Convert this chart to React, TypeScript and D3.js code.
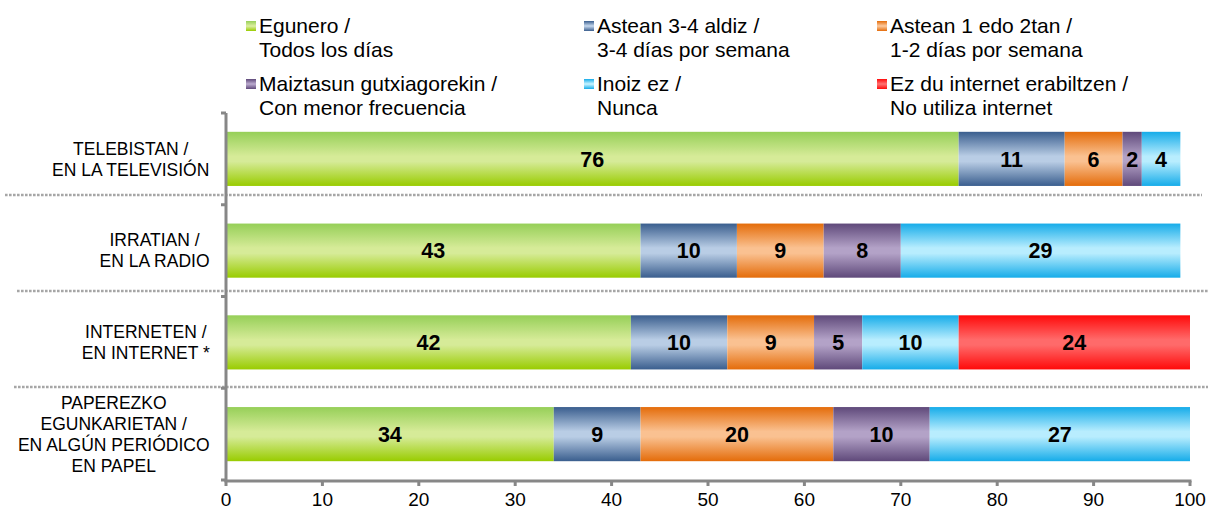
import React, { useMemo } from "react";
import * as d3 from "d3";

const categories = ["tv", "radio", "internet", "paper"];
const categoryLabels: string[][] = [
  ["TELEBISTAN /", "EN LA TELEVISIÓN"],
  ["IRRATIAN /", "EN LA RADIO"],
  ["INTERNETEN /", "EN INTERNET *"],
  ["PAPEREZKO", "EGUNKARIETAN /", "EN ALGÚN PERIÓDICO", "EN PAPEL"],
];

const seriesNames: string[][] = [
  ["Egunero /", "Todos los días"],
  ["Astean 3-4 aldiz /", "3-4 días por semana"],
  ["Astean 1 edo 2tan /", "1-2 días por semana"],
  ["Maiztasun gutxiagorekin /", "Con menor frecuencia"],
  ["Inoiz ez /", "Nunca"],
  ["Ez du internet erabiltzen /", "No utiliza internet"],
];

const egunero = [76, 43, 42, 34];
const astean34 = [11, 10, 10, 9];
const astean12 = [6, 9, 9, 20];
const maiztasun = [2, 8, 5, 10];
const inoizEz = [4, 29, 10, 27];
const ezDu = [0, 0, 24, 0];
const seriesValues = [egunero, astean34, astean12, maiztasun, inoizEz, ezDu];

const xTicks = [0, 10, 20, 30, 40, 50, 60, 70, 80, 90, 100];

// gradient colours: [edge top, middle, edge bottom]
const seriesColors: string[][] = [
  ["#96cf58", "#d6eb98", "#99cc00"],
  ["#3a5e8e", "#b9cde5", "#3a5e8e"],
  ["#e46c0a", "#fac191", "#e46c0a"],
  ["#5f497a", "#b3a2c7", "#5f497a"],
  ["#16ace9", "#b8edfe", "#16ace9"],
  ["#ff0a0a", "#ff6a6a", "#ff0a0a"],
];

const W = 1209;
const H = 511;
const FONT = "'Liberation Sans', Arial, sans-serif";

function measure(text: string, font: string): number {
  if (typeof document === "undefined") return text.length * 9;
  const c = document.createElement("canvas");
  const ctx = c.getContext("2d");
  if (!ctx) return text.length * 9;
  ctx.font = font;
  return ctx.measureText(text).width;
}

export default function App() {
  const x = d3.scaleLinear().domain([0, 100]).range([226, 1190]);
  const y = d3
    .scaleBand<string>()
    .domain(categories)
    .range([113, 480])
    .paddingInner(0.41)
    .paddingOuter(0.205);
  const bw = y.bandwidth();
  const step = y.step();

  const stackData = categories.map((c, i) => {
    const row: any = { cat: c };
    seriesValues.forEach((s, k) => (row["s" + k] = s[i]));
    return row;
  });
  const keys = seriesValues.map((_, k) => "s" + k);
  const stacked = d3.stack<any>().keys(keys)(stackData);

  const catFont = `17.5px ${FONT}`;
  const labelBlocks = useMemo(
    () =>
      categoryLabels.map((lines) =>
        Math.max(...lines.map((l) => measure(l, catFont)))
      ),
    []
  );

  const sepY = [195, 291, 387];
  const sepX = [[5, 1202], [17, 1208], [14, 1208]];

  const legendCols = [246, 584, 877];
  const legendRows = [33, 91];

  const axisColor = "#878787";
  const boundaries = d3.range(categories.length + 1).map((i) => 113 + i * step);

  return (
    <svg
      width={W}
      height={H}
      style={{ position: "absolute", left: 0, top: 0, background: "#fff" }}
      fontFamily={FONT}
    >
      <defs>
        {seriesColors.map((c, k) => (
          <linearGradient key={k} id={"g" + k} x1="0" y1="0" x2="0" y2="1">
            <stop offset="0" stopColor={c[0]} />
            <stop offset="0.45" stopColor={c[1]} />
            <stop offset="0.55" stopColor={c[1]} />
            <stop offset="1" stopColor={c[2]} />
          </linearGradient>
        ))}
      </defs>

      {/* legend */}
      {seriesNames.map((lines, k) => {
        const cx = legendCols[k % 3];
        const by = legendRows[Math.floor(k / 3)];
        return (
          <g key={k}>
            <rect x={cx} y={by - 12} width={10} height={10} fill={`url(#g${k})`} />
            {lines.map((l, j) => (
              <text key={j} x={cx + 13} y={by + j * 23.5} fontSize={21} fill="#000">
                {l}
              </text>
            ))}
          </g>
        );
      })}

      {/* separators */}
      {sepY.map((sy, i) => (
        <line
          key={i}
          x1={sepX[i][0]}
          x2={sepX[i][1]}
          y1={sy}
          y2={sy}
          stroke="#a6a6a6"
          strokeWidth={2.5}
          strokeDasharray="2.6 1.4"
        />
      ))}

      {/* bars */}
      {stacked.map((layer, k) => (
        <g key={k}>
          {layer.map((d, i) => {
            const v = d[1] - d[0];
            if (v <= 0) return null;
            const yy = y(categories[i]) as number;
            return (
              <g key={i}>
                <rect
                  x={x(d[0])}
                  y={yy}
                  width={x(d[1]) - x(d[0])}
                  height={bw}
                  fill={`url(#g${k})`}
                />
                <text
                  x={(x(d[0]) + x(d[1])) / 2}
                  y={yy + bw / 2}
                  dy="0.36em"
                  textAnchor="middle"
                  fontSize={21.5}
                  fontWeight="bold"
                  fill="#000"
                >
                  {v}
                </text>
              </g>
            );
          })}
        </g>
      ))}

      {/* category labels */}
      {categoryLabels.map((lines, i) => {
        const cy = (y(categories[i]) as number) + bw / 2;
        const cx = 210 - labelBlocks[i] / 2;
        return lines.map((l, j) => (
          <text
            key={i + "-" + j}
            x={cx}
            y={cy + (j - (lines.length - 1) / 2) * 21}
            dy="0.36em"
            textAnchor="middle"
            fontSize={17.5}
            fill="#000"
          >
            {l}
          </text>
        ));
      })}

      {/* y axis */}
      <line x1={x(0)} x2={x(0)} y1={113} y2={481.5} stroke={axisColor} strokeWidth={3} />
      {boundaries.map((b, i) => (
        <line key={i} x1={x(0) - 5} x2={x(0)} y1={b} y2={b} stroke={axisColor} strokeWidth={3} />
      ))}

      {/* x axis */}
      <line x1={x(0) - 1.5} x2={x(100) + 1.5} y1={481} y2={481} stroke={axisColor} strokeWidth={3} />
      {xTicks.map((t) => (
        <g key={t}>
          <line x1={x(t)} x2={x(t)} y1={481} y2={486} stroke={axisColor} strokeWidth={3} />
          <text x={x(t)} y={506} textAnchor="middle" fontSize={19} fill="#000">
            {t}
          </text>
        </g>
      ))}
    </svg>
  );
}
